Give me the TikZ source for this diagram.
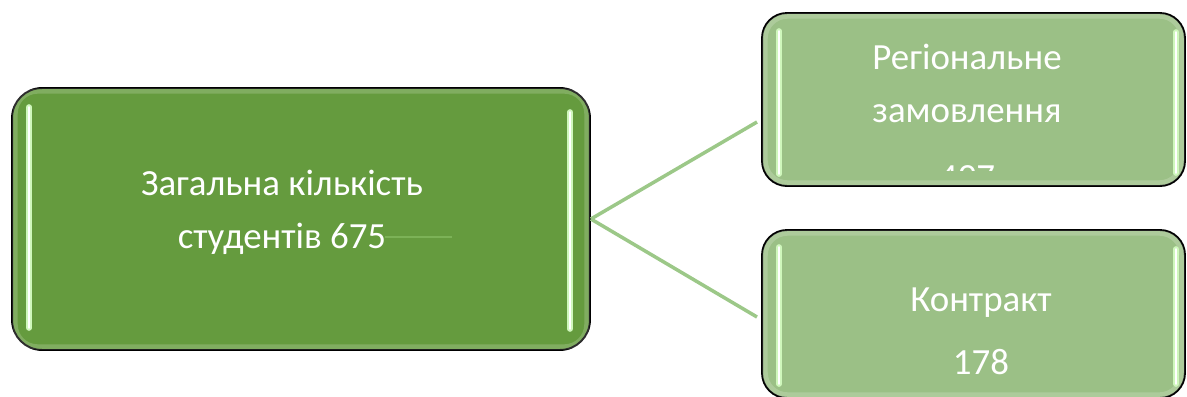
\documentclass[tikz,border=0pt]{standalone}
\usepackage{fontspec}
\setmainfont{Carlito}
\definecolor{darkleaf}{HTML}{659B3E}
\definecolor{paleleaf}{HTML}{9BC086}
\definecolor{linkleaf}{HTML}{9CC888}
\definecolor{glowleaf}{HTML}{CFF7BC}
\definecolor{strayleaf}{HTML}{7CB257}

\begin{document}
\begin{tikzpicture}[x=0.02cm,y=-0.02cm,
   box/.style={draw=black,line width=1.1pt,rounded corners=0.6cm,inner sep=0pt},
   bigbox/.style={box,fill=darkleaf,minimum width=11.56cm,minimum height=5.24cm},
   smallbox/.style={box,fill=paleleaf,minimum width=8.46cm,rounded corners=0.5cm},
   rim/.style={draw=white,opacity=0.18,line width=3pt,rounded corners=0.45cm},
   shine/.style={draw=glowleaf,line width=1.1pt,double=white,double distance=1.1pt,line cap=round},
   caption/.style={text=white,align=center,inner sep=0pt},
   link/.style={draw=linkleaf,line width=2pt}]
   \useasboundingbox (0,0) rectangle (1187,396);

   % boxes
   \node[bigbox] (total) at (301,219) {};
   \node[smallbox,minimum height=3.46cm] (regional) at (973.5,99.5) {};
   \node[smallbox,minimum height=3.36cm] (contract) at (973.5,314) {};

   % soft inner edge and highlights
   \foreach \b in {total,regional,contract} {
     \draw[rim] ([shift={(4,4)}]\b.north west) rectangle ([shift={(-4,-4)}]\b.south east);
   }
   \draw[shine] ([shift={(18,20)}]total.north west) -- ([shift={(18,-23)}]total.south west);
   \draw[shine] ([shift={(-21,25)}]total.north east) -- ([shift={(-21,-22)}]total.south east);
   \draw[shine] ([shift={(18,19)}]regional.north west) -- ([shift={(18,-13)}]regional.south west);
   \draw[shine] ([shift={(-10,20)}]regional.north east) -- ([shift={(-10,-14)}]regional.south east);
   \draw[shine] ([shift={(18,18)}]contract.north west) -- ([shift={(18,-15)}]contract.south west);
   \draw[shine] ([shift={(-10,20)}]contract.north east) -- ([shift={(-10,-15)}]contract.south east);

   \draw[strayleaf,line width=1.5pt] (385,237) -- (452,237);

   % texts
   \node[caption,font=\fontsize{21}{30}\selectfont] (totaltext) at (282,212)
      {Загальна кількість\\студентів 675};
   \begin{scope}
     \clip (762,13) rectangle (1185,170);
     \node[caption,font=\fontsize{21}{30}\selectfont,anchor=north] (regionaltext) at (967,44)
        {Регіональне\\замовлення\\[8pt]497};
   \end{scope}
   \node[caption,font=\fontsize{21}{36}\selectfont] (contracttext) at (981,331)
      {Контракт\\178};

   % connectors
   \coordinate (regionalend) at (757,122);
   \coordinate (contractend) at (757,317);
   \draw[link] (total.east) -- (regionalend);
   \draw[link] (total.east) -- (contractend);
\end{tikzpicture}
\end{document}
